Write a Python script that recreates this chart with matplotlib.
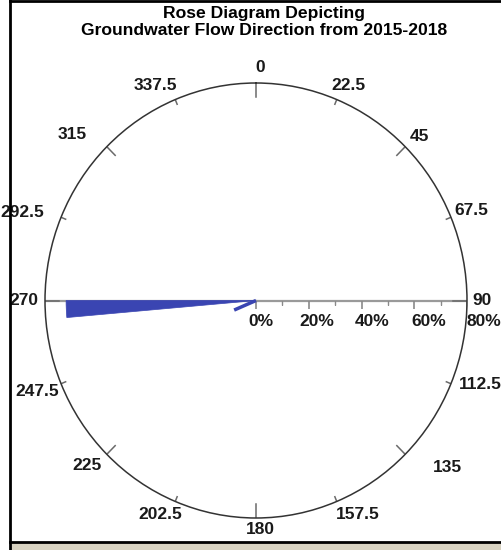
import numpy as np
import matplotlib
matplotlib.use("Agg")
import matplotlib.pyplot as plt
from matplotlib.patches import Rectangle
from matplotlib.lines import Line2D

# rose diagram data (compass degrees, percent of readings)
bin_start = [265.0]
bin_end = [270.0]
bin_pct = [72.0]
mean_dir = 247.0
mean_len = 9.0

compass_deg = [0, 22.5, 45, 67.5, 90, 112.5, 135, 157.5, 180,
               202.5, 225, 247.5, 270, 292.5, 315, 337.5]
compass_lbl = ["0", "22.5", "45", "67.5", "90", "112.5", "135", "157.5", "180",
               "202.5", "225", "247.5", "270", "292.5", "315", "337.5"]
pct_ticks = [0, 20, 40, 60, 80]
pct_minor = [10, 30, 50, 70]
pct_lbl = ["0%", "20%", "40%", "60%", "80%"]
rmax = 80

# label offsets from the circle, in pixels (x right, y up)
lbl_off = [(4, 15), (12, 14), (14, 10), (20, 7), (15, 0), (29, -1), (42, -13), (21, -13),
           (4, -12), (-15, -13), (-20, -11), (-24, -8), (-21, 0), (-39, 5), (-35, 12), (-20, 14)]

font = "Liberation Sans"
blue = "#3a45b2"

fig = plt.figure(figsize=(5.01, 5.5), dpi=100)
W, H = 501, 550

# frame / background
fig.patches.append(Rectangle((11 / W, 0), 1, 7 / H, transform=fig.transFigure,
                             facecolor="#d8d2c1", edgecolor="none", zorder=0))
fig.add_artist(Line2D([10 / W, 10 / W], [0, 1], color="black", lw=2))
fig.add_artist(Line2D([10 / W, 1], [1 - 1 / H, 1 - 1 / H], color="black", lw=2))
fig.add_artist(Line2D([10 / W, 1], [8.5 / H, 8.5 / H], color="black", lw=2))

fig.text(264 / W, 1 - 22 / H, "Rose Diagram Depicting\nGroundwater Flow Direction from 2015-2018",
         ha="center", va="center", fontsize=12.6, fontweight="bold", family=font,
         linespacing=1.22)

cx, cy, rx, ry = 256, 300.5, 211, 217.5
ax = fig.add_axes([(cx - rx) / W, (H - cy - ry) / H, 2 * rx / W, 2 * ry / H], projection="polar")
ax.set_aspect("auto")
ax.set_theta_zero_location("N")
ax.set_theta_direction(-1)
ax.set_ylim(0, rmax)
ax.set_xticks([])
ax.set_yticks([])
ax.grid(False)
ax.spines["polar"].set_color("#333333")
ax.spines["polar"].set_linewidth(1.1)

# horizontal radial axis line
ax.plot([np.pi / 2, np.pi / 2], [0, rmax], color="#9a9a9a", lw=1.6, zorder=2)
ax.plot([3 * np.pi / 2, 3 * np.pi / 2], [0, rmax], color="#9a9a9a", lw=1.6, zorder=2)
ax.plot(np.full(len(pct_ticks), np.pi / 2), pct_ticks, ls="none", marker=3,
        ms=6, mew=1.2, color="#8a8a8a", zorder=2)
ax.plot(np.full(len(pct_minor), np.pi / 2), pct_minor, ls="none", marker=3,
        ms=3, mew=1.0, color="#8a8a8a", zorder=2)
for r, lab in zip(pct_ticks, pct_lbl):
    ax.annotate(lab, (np.pi / 2, r), xytext=(5 + 0.15 * r, -21), textcoords="offset pixels",
                ha="center", va="center", fontsize=12.5, fontweight="bold", family=font,
                color="#1a1a1a", annotation_clip=False)

# compass ticks and labels
for d, lab, off in zip(compass_deg, compass_lbl, lbl_off):
    th = np.deg2rad(d)
    if d % 90 == 0:
        ln = 14
    elif d % 45 == 0:
        ln = 12
    else:
        ln = 5
    ax.plot([th, th], [rmax, rmax * (1 - ln / 214)], color="#6a6a6a", lw=1.1, zorder=2)
    ax.annotate(lab, (th, rmax), xytext=off, textcoords="offset pixels",
                ha="center", va="center", fontsize=12.5, fontweight="bold", family=font,
                color="#1a1a1a", annotation_clip=False)

# petals
starts = np.deg2rad(bin_start)
widths = np.deg2rad(np.array(bin_end) - np.array(bin_start))
ax.bar(starts, bin_pct, width=widths, bottom=0, align="edge", color=blue,
       edgecolor=blue, lw=0.5, zorder=3)
ax.plot([np.deg2rad(mean_dir)] * 2, [0, mean_len], color=blue, lw=2.5,
        solid_capstyle="butt", zorder=3)

fig.savefig("out.png", dpi=100)
